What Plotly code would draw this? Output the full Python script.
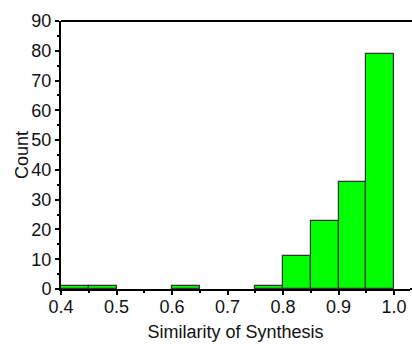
import plotly.graph_objects as go

bin_starts = [0.40, 0.45, 0.60, 0.75, 0.80, 0.85, 0.90, 0.95]
counts = [1, 1, 1, 1, 11, 23, 36, 79]
bin_width = 0.05
x_ticks = [0.4, 0.5, 0.6, 0.7, 0.8, 0.9, 1.0]
x_tick_labels = ["0.4", "0.5", "0.6", "0.7", "0.8", "0.9", "1.0"]
y_ticks = [0, 10, 20, 30, 40, 50, 60, 70, 80, 90]

fig = go.Figure(go.Bar(
    x=bin_starts, y=counts, width=[bin_width] * len(counts), offset=0,
    marker=dict(color="#00FF00", line=dict(color="#333333", width=1.2)),
))

font = dict(family="Liberation Sans, Arial, sans-serif", size=18, color="#111")
fig.update_layout(
    width=412, height=344,
    margin=dict(l=61, r=2, t=21, b=55),
    plot_bgcolor="white", paper_bgcolor="white",
    font=font, showlegend=False, bargap=0,
    shapes=[
        dict(type="line", xref="paper", yref="paper", x0=0, x1=1.02, y0=1, y1=1,
             line=dict(color="black", width=2)),
        dict(type="line", xref="paper", yref="paper", x0=1, x1=1.02, y0=0, y1=0,
             line=dict(color="black", width=2)),
    ],
    annotations=[dict(text="Count", textangle=-90, xref="paper", yref="paper",
                      x=-39 / 349, y=0.5, xanchor="center", yanchor="middle",
                      showarrow=False, font=dict(size=18))],
)
fig.update_xaxes(
    range=[0.4, 0.4 + 349 / 555], tickvals=x_ticks, ticktext=x_tick_labels,
    showgrid=False, zeroline=False, automargin=False,
    showline=True, linecolor="black", linewidth=2, mirror=False,
    ticks="outside", ticklen=4, tickwidth=1.5, tickcolor="black",
    ticklabelstandoff=-4,
    minor=dict(dtick=0.05, tick0=0.4, ticks="outside", ticklen=2, tickwidth=1.5,
               tickcolor="black", showgrid=False),
    title=dict(text="Similarity of Synthesis", font=dict(size=18), standoff=10),
)
fig.update_yaxes(
    range=[0, 90], tickvals=y_ticks,
    showgrid=False, zeroline=False, automargin=False,
    showline=True, linecolor="black", linewidth=2,
    ticks="outside", ticklen=4, tickwidth=1.5, tickcolor="black",
    minor=dict(dtick=5, tick0=0, ticks="outside", ticklen=2, tickwidth=1.5,
               tickcolor="black", showgrid=False),
)
fig.write_html("out.html")
